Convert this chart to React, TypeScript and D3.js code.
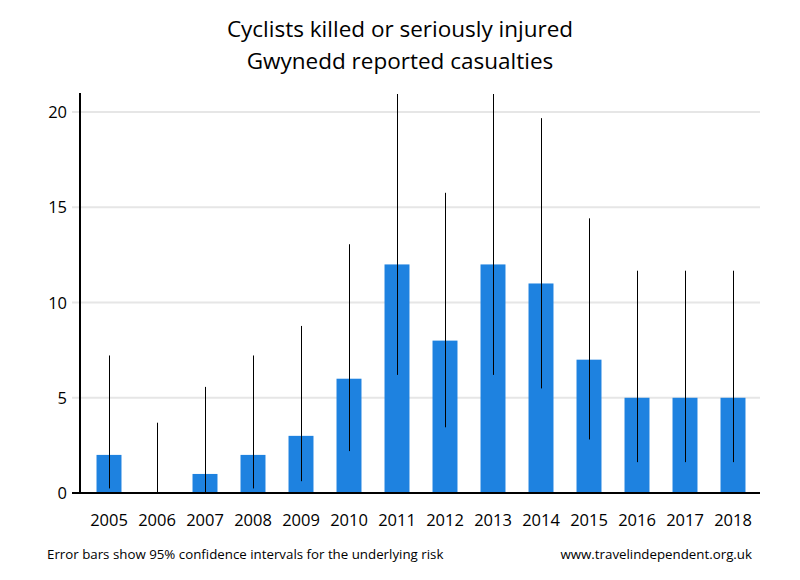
import React from "react";
import * as d3 from "d3";

const years = ["2005","2006","2007","2008","2009","2010","2011","2012","2013","2014","2015","2016","2017","2018"];
const casualties = [2, 0, 1, 2, 3, 6, 12, 8, 12, 11, 7, 5, 5, 5];
const lowerCI = [0.24, 0, 0.03, 0.24, 0.62, 2.2, 6.2, 3.45, 6.2, 5.49, 2.81, 1.62, 1.62, 1.62];
const upperCI = [7.22, 3.69, 5.57, 7.22, 8.77, 13.06, 20.96, 15.76, 20.96, 19.68, 14.42, 11.67, 11.67, 11.67];
const yTicks = [0, 5, 10, 15, 20];

const W = 800, H = 580;
const left = 80, right = 760, top = 93, bottom = 493;
const font = "'Open Sans', 'DejaVu Sans', sans-serif";

export default function App() {
  const x = d3.scaleBand<string>().domain(years).range([85, 757]).paddingInner(0.48).paddingOuter(0.24);
  const y = d3.scaleLinear().domain([0, 21]).range([bottom, top]);
  return (
    <svg width={W} height={H} style={{ position: "absolute", left: 0, top: 0, background: "#fff" }} fontFamily={font}>
      <rect width={W} height={H} fill="#fff" />
      <text x={400} y={37} textAnchor="middle" fontSize={22.5}>Cyclists killed or seriously injured</text>
      <text x={400} y={68.5} textAnchor="middle" fontSize={22.5}>Gwynedd reported casualties</text>
      {yTicks.map(t => (
        <g key={t}>
          {t > 0 && <line x1={72} x2={right} y1={y(t)} y2={y(t)} stroke="#e6e6e6" strokeWidth={2} />}
          <text x={67} y={y(t) + 6} textAnchor="end" fontSize={16.5}>{t}</text>
        </g>
      ))}
      {years.map((yr, i) => (
        <rect key={yr} x={x(yr)!} width={x.bandwidth()} y={y(casualties[i])} height={y(0) - y(casualties[i])} fill="#1e82e0" />
      ))}
      {years.map((yr, i) => {
        const cx = Math.round(x(yr)! + x.bandwidth() / 2) + 0.5;
        return <line key={yr} x1={cx} x2={cx} y1={y(lowerCI[i])} y2={Math.max(y(upperCI[i]), top + 1)} stroke="#000" strokeWidth={1} />;
      })}
      <line x1={left} x2={left} y1={top} y2={bottom + 1} stroke="#000" strokeWidth={2} />
      <line x1={left - 8} x2={right} y1={bottom} y2={bottom} stroke="#000" strokeWidth={2} />
      {years.map(yr => (
        <text key={yr} x={x(yr)! + x.bandwidth() / 2} y={526} textAnchor="middle" fontSize={16.5}>{yr}</text>
      ))}
      <text x={47} y={559} fontSize={13.3}>Error bars show 95% confidence intervals for the underlying risk</text>
      <text x={752} y={559} fontSize={13.3} textAnchor="end">www.travelindependent.org.uk</text>
    </svg>
  );
}
